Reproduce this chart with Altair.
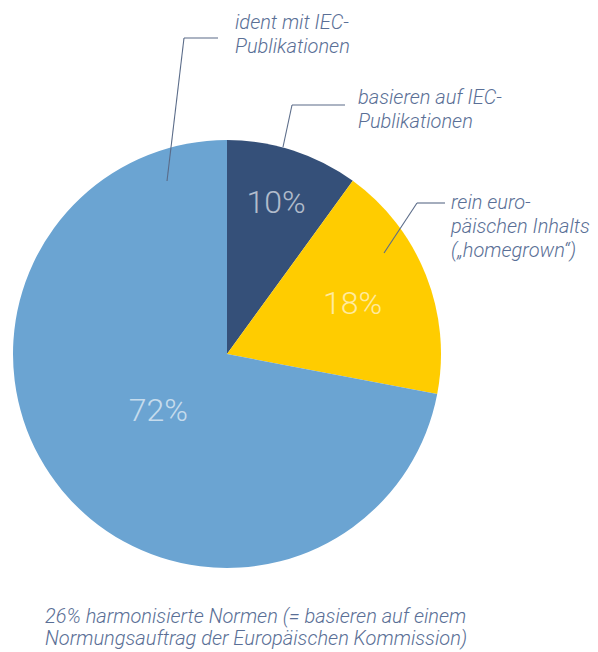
import altair as alt
import pandas as pd

# data
categories = ["basieren auf IEC-Publikationen", "rein europäischen Inhalts", "ident mit IEC-Publikationen"]
shares = [10, 18, 72]
labels = ["10%", "18%", "72%"]
colors = ["#355079", "#ffcc00", "#6ba4d2"]

# layout (styles / positions, not data)
label_radius = [159, 135, 89]
OX, OY = 8, 8  # page margin
CX, CY, R = 227 - OX, 354 - OY, 214
TXT = "#5a6f96"
LINE = "#5a6b88"
FS = 20

df = pd.DataFrame({
    "cat": categories,
    "share": shares,
    "label": labels,
    "order": [0, 1, 2],
    "r": label_radius,
})

arcs = alt.Chart(df).mark_arc(outerRadius=R, stroke=None).encode(
    theta=alt.Theta("share:Q", stack=True),
    order=alt.Order("order:Q"),
    x=alt.value(CX), y=alt.value(CY),
    color=alt.Color("cat:N", scale=alt.Scale(domain=categories, range=colors), legend=None),
)

pct = alt.Chart(df).transform_window(
    cum="sum(share)", sort=[alt.SortField("order")]
).transform_joinaggregate(
    total="sum(share)"
).transform_calculate(
    mid="(datum.cum - datum.share / 2) / datum.total * 2 * PI"
).mark_text(font="Roboto", fontWeight=300, fontSize=32, color="#ffffff",
            opacity=0.62, align="center", baseline="middle").encode(
    x=alt.value(CX), y=alt.value(CY),
    theta=alt.Theta("mid:Q", scale=None),
    radius=alt.Radius("r:Q", scale=None),
    text="label:N",
)

def seg(x1, y1, x2, y2):
    return alt.Chart(df.head(1)).mark_rule(color=LINE, strokeWidth=1.1).encode(
        x=alt.value(x1 - OX), y=alt.value(y1 - OY),
        x2=alt.value(x2 - OX), y2=alt.value(y2 - OY))

lines = [
    seg(167, 181, 184, 38), seg(184, 38, 218, 38),
    seg(283, 147, 292, 105), seg(292, 105, 345, 105),
    seg(384, 253, 417, 203), seg(417, 203, 445, 203),
]

def note(lines_, x, y, lh=24):
    return alt.Chart(df.head(1)).mark_text(
        font="Roboto", fontWeight=300, fontStyle="italic", fontSize=FS,
        color=TXT, align="left", baseline="alphabetic", lineHeight=lh,
        text=lines_).encode(x=alt.value(x - OX), y=alt.value(y - OY))

notes = [
    note(["ident mit IEC-", "Publikationen"], 235, 29),
    note(["basieren auf IEC-", "Publikationen"], 358, 104),
    note(["rein euro-", "päischen Inhalts", "(„homegrown“)"], 451, 209),
    note(["26% harmonisierte Normen (= basieren auf einem",
          "Normungsauftrag der Europäischen Kommission)"], 45, 623, lh=22),
]

chart = alt.layer(arcs, pct, *lines, *notes).properties(
    width=582, height=644, autosize=alt.AutoSizeParams(type="none"), padding=0
).configure_view(stroke=None)

chart.save("out.html", embed_options={"renderer": "svg", "actions": False})
